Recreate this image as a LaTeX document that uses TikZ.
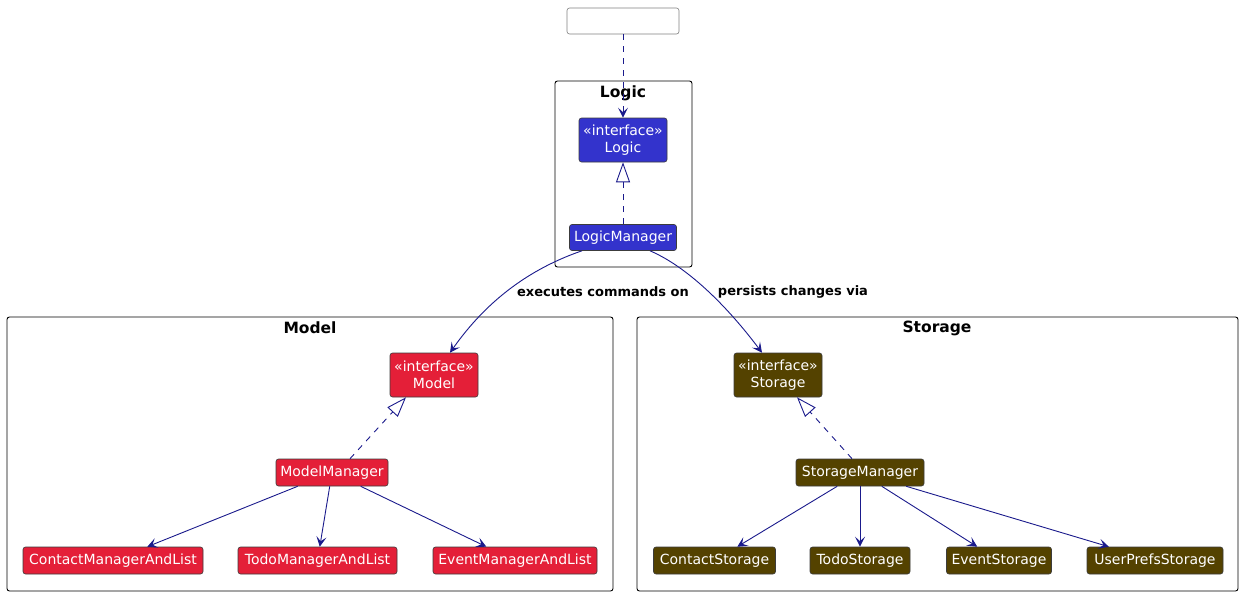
\documentclass[tikz,border=0pt]{standalone}
\usepackage{fontspec}
\setmainfont{DejaVu Sans}
\usetikzlibrary{arrows.meta,calc}
\definecolor{logicc}{RGB}{51,51,204}
\definecolor{modelc}{RGB}{228,31,56}
\definecolor{storc}{RGB}{84,66,0}
\definecolor{linec}{RGB}{26,26,140}
\definecolor{boxb}{RGB}{60,60,60}
\begin{document}
\begin{tikzpicture}[x=1pt,y=-1pt,
  cls/.style={draw=boxb,line width=0.6pt,rounded corners=2.5pt,inner sep=0pt,text=white,font=\fontsize{14}{16.5}\selectfont,align=center},
  pkg/.style={draw=black,line width=0.9pt,rounded corners=2.5pt},
  pkgtitle/.style={font=\bfseries\fontsize{15.5}{17}\selectfont},
  lbl/.style={font=\bfseries\fontsize{13}{15}\selectfont},
  arr/.style={draw=linec,line width=0.9pt,-{Stealth[length=10pt,width=10pt,inset=4.5pt]}},
  real/.style={draw=linec,line width=0.9pt,dash pattern=on 6pt off 6pt,-{Triangle[open,fill=white,length=20pt,width=14pt]}},
  dep/.style={draw=linec,line width=0.9pt,dash pattern=on 6pt off 6pt,-{Stealth[length=10pt,width=10pt,inset=4.5pt]}}
]
\useasboundingbox[fill=white] (0,0) rectangle (1242,595);

% packages
\draw[pkg] (555,81) rectangle (692,267);
\node[pkgtitle] (tlogic) at (623,93) {Logic};
\draw[pkg] (7,317) rectangle (613,591);
\node[pkgtitle] (tmodel) at (310,328) {Model};
\draw[pkg] (637,317) rectangle (1238,591);
\node[pkgtitle] (tstor) at (937,328) {Storage};

% top box
\node[draw=gray,line width=0.6pt,rounded corners=2.5pt,fill=white,minimum width=112pt,minimum height=26pt,inner sep=0pt] (ui) at (623,21) {};

% logic
\node[cls,fill=logicc,minimum width=88pt,minimum height=44pt] (li) at (623,140) {«interface»\\Logic};
\node[cls,fill=logicc,minimum width=107pt,minimum height=26pt] (lm) at (623,237.5) {LogicManager};

% model
\node[cls,fill=modelc,minimum width=88pt,minimum height=44pt] (mi) at (434,375) {«interface»\\Model};
\node[cls,fill=modelc,minimum width=112pt,minimum height=27pt] (mm) at (332,472.5) {ModelManager};
\node[cls,fill=modelc,minimum width=180pt,minimum height=27pt] (mc) at (113,560.5) {ContactManagerAndList};
\node[cls,fill=modelc,minimum width=159pt,minimum height=27pt] (mt) at (317.5,560.5) {TodoManagerAndList};
\node[cls,fill=modelc,minimum width=164pt,minimum height=27pt] (me) at (515,560.5) {EventManagerAndList};

% storage
\node[cls,fill=storc,minimum width=88pt,minimum height=44pt] (si) at (778,375) {«interface»\\Storage};
\node[cls,fill=storc,minimum width=128pt,minimum height=27pt] (sm) at (860,472.5) {StorageManager};
\node[cls,fill=storc,minimum width=122pt,minimum height=27pt] (sc) at (714.5,560.5) {ContactStorage};
\node[cls,fill=storc,minimum width=100pt,minimum height=27pt] (st) at (860,560.5) {TodoStorage};
\node[cls,fill=storc,minimum width=105pt,minimum height=27pt] (se) at (999,560.5) {EventStorage};
\node[cls,fill=storc,minimum width=136pt,minimum height=27pt] (su) at (1155,560.5) {UserPrefsStorage};

% connectors
\draw[dep] (ui.south) -- (li.north);
\draw[real] (lm.north) -- (li.south);
\draw[arr] ($(lm.south)+(-41,0)$) .. controls (520,272) and (480,310) .. ($(mi.north)+(16,0)$);
\draw[arr] ($(lm.south)+(27,0)$) .. controls (690,268) and (730,310) .. ($(si.north)+(-16,0)$);
\node[lbl] (l1) at (603,292) {executes commands on};
\node[lbl] (l2) at (793,292) {persists changes via};

\draw[real] ($(mm.north)+(18,0)$) -- ($(mi.south)+(-28,0)$);
\draw[arr] (mm) -- (mc);
\draw[arr] (mm) -- (mt);
\draw[arr] (mm) -- (me);

\draw[real] ($(sm.north)+(-8,0)$) -- ($(si.south)+(19,0)$);
\draw[arr] (sm) -- (sc);
\draw[arr] (sm) -- (st);
\draw[arr] (sm) -- (se);
\draw[arr] (sm) -- (su);
\end{tikzpicture}
\end{document}
